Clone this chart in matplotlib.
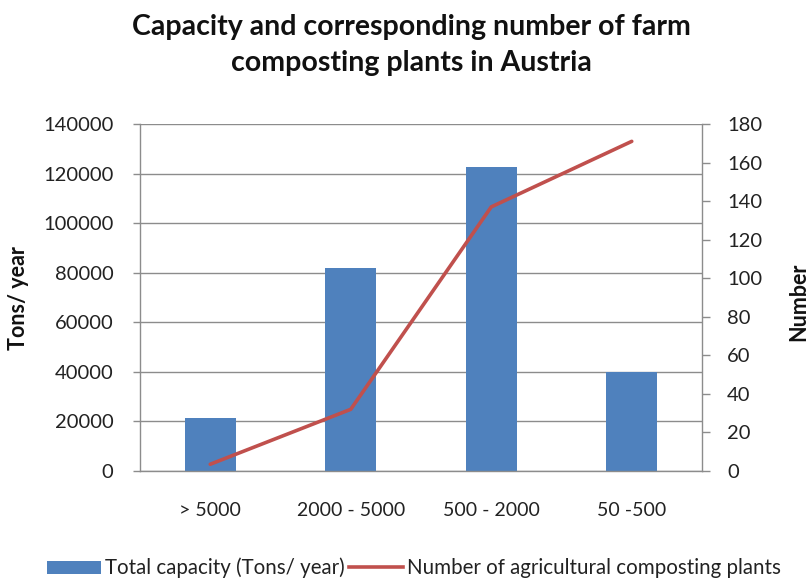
import matplotlib
matplotlib.use("Agg")
import matplotlib.pyplot as plt
import numpy as np
from matplotlib.patches import Patch
from matplotlib.lines import Line2D

categories = ["> 5000", "2000 - 5000", "500 - 2000", "50 -500"]
capacity = [21500, 82000, 122500, 40000]
plants = [3.5, 32, 137, 171]
left_ticks = [0, 20000, 40000, 60000, 80000, 100000, 120000, 140000]
right_ticks = [0, 20, 40, 60, 80, 100, 120, 140, 160, 180]

FONT = "Lato"
BAR = "#4F81BD"
LINE = "#C0504D"
GRID = "#8C8C8C"
TXT = "#222222"

plt.rcParams['font.family'] = [FONT, 'DejaVu Sans']

fig = plt.figure(figsize=(8.1, 5.8), dpi=100)
ax = fig.add_axes([140/810, 1 - 471/580, (702-140)/810, (471-124)/580])
x = np.arange(len(categories))
ax.bar(x, capacity, width=0.36, color=BAR, zorder=2)
ax.set_xlim(-0.5, len(categories) - 0.5)
ax.set_ylim(0, 140000)
ax.set_yticks(left_ticks)
ax.set_yticklabels([str(v) for v in left_ticks], fontsize=14.5, color=TXT)
ax.set_xticks(x)
ax.set_xticklabels(categories, fontsize=14, color=TXT)
ax.tick_params(axis='x', length=0, pad=22)
ax.tick_params(axis='y', length=5, width=1, color=GRID, pad=14)
ax.grid(axis='y', color=GRID, linewidth=1, zorder=0)
for s in ['top', 'right']:
    ax.spines[s].set_visible(False)
for s in ['left', 'bottom']:
    ax.spines[s].set_color(GRID)
    ax.spines[s].set_linewidth(1)

ax2 = ax.twinx()
ax2.plot(x, plants, color=LINE, linewidth=2.6, solid_capstyle='round', zorder=3)
ax2.set_ylim(0, 180)
ax2.set_yticks(right_ticks)
ax2.set_yticklabels([str(v) for v in right_ticks], fontsize=14.5, color=TXT)
ax2.tick_params(axis='y', length=6, width=1, color=GRID, pad=12)
for s in ['top', 'left', 'bottom']:
    ax2.spines[s].set_visible(False)
ax2.spines['right'].set_color(GRID)
ax2.spines['right'].set_linewidth(1)

fig.text(19/810, 1 - 298/580, "Tons/ year", rotation=90, ha='center', va='center',
         fontsize=15.5, fontweight='bold', color="#111111")
fig.text(799/810, 1 - 302/580, "Number", rotation=90, ha='center', va='center',
         fontsize=15.5, fontweight='bold', color="#111111")

fig.text(411/810, 1 - 45/580, "Capacity and corresponding number of farm\ncomposting plants in Austria",
         ha='center', va='center', fontsize=20.5, fontweight='bold', linespacing=1.45, color="#111111")

handles = [Patch(facecolor=BAR, edgecolor='none'), Line2D([0], [0], color=LINE, linewidth=2.6)]
fig.legend(handles, ["Total capacity (Tons/ year)", "Number of agricultural composting plants"],
           loc='center', bbox_to_anchor=(414/810, 1 - 568/580), ncol=2, frameon=False,
           fontsize=14.8, handlelength=2.6, handletextpad=0.2, columnspacing=0.25,
           handleheight=0.6, labelcolor=TXT)

fig.savefig("out.png", dpi=100)
